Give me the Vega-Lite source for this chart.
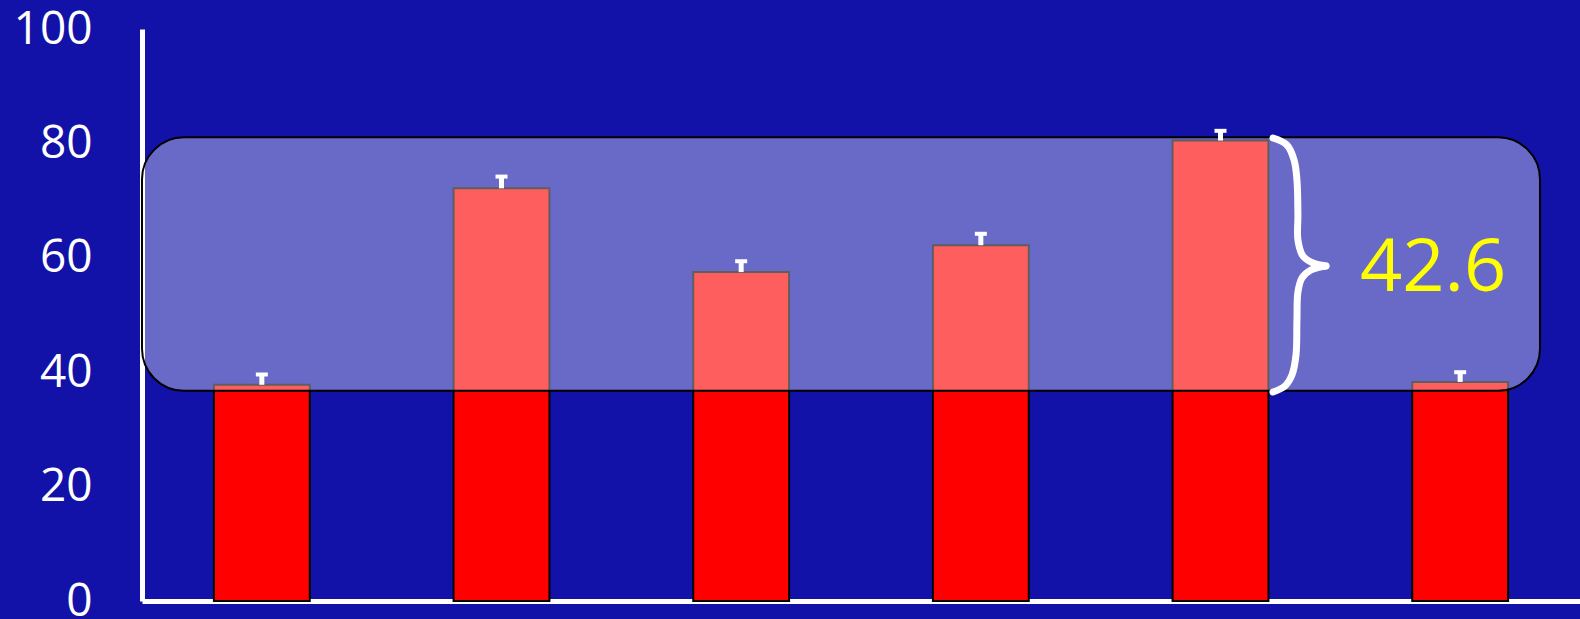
{
  "$schema": "https://vega.github.io/schema/vega-lite/v6.json",
  "width": 1438,
  "height": 572,
  "autosize": {"type": "none"},
  "padding": {"left": 142, "top": 29, "right": 0, "bottom": 18},
  "background": "#1212A8",
  "view": {"stroke": null},
  "datasets": {
    "bars": [
      {"cat": "1", "value": 37.8, "err": 39.6},
      {"cat": "2", "value": 72.15, "err": 74.2},
      {"cat": "3", "value": 57.5, "err": 59.4},
      {"cat": "4", "value": 62.2, "err": 64.2},
      {"cat": "5", "value": 80.5, "err": 82.2},
      {"cat": "6", "value": 38.3, "err": 40.0}
    ],
    "overlay": [{"x0": 0, "x1": 5.833, "y0": 36.75, "y1": 81.07}],
    "brace": [
      {"part": "top", "i": 1, "x": 4.719, "y": 80.94},
      {"part": "top", "i": 2, "x": 4.777, "y": 79.72},
      {"part": "top", "i": 3, "x": 4.807, "y": 77.1},
      {"part": "top", "i": 4, "x": 4.819, "y": 73.6},
      {"part": "top", "i": 5, "x": 4.823, "y": 67.48},
      {"part": "top", "i": 6, "x": 4.823, "y": 63.11},
      {"part": "top", "i": 7, "x": 4.844, "y": 60.31},
      {"part": "top", "i": 8, "x": 4.886, "y": 59.09},
      {"part": "top", "i": 9, "x": 4.94, "y": 58.57},
      {"part": "bottom", "i": 10, "x": 4.94, "y": 58.57},
      {"part": "bottom", "i": 11, "x": 4.877, "y": 57.87},
      {"part": "bottom", "i": 12, "x": 4.84, "y": 56.47},
      {"part": "bottom", "i": 13, "x": 4.823, "y": 54.02},
      {"part": "bottom", "i": 14, "x": 4.819, "y": 49.13},
      {"part": "bottom", "i": 15, "x": 4.815, "y": 43.01},
      {"part": "bottom", "i": 16, "x": 4.798, "y": 39.51},
      {"part": "bottom", "i": 17, "x": 4.769, "y": 37.59},
      {"part": "bottom", "i": 18, "x": 4.719, "y": 36.54}
    ],
    "label": [{"x": 5.387, "y": 58.0, "text": "42.6"}]
  },
  "layer": [
    {
      "data": {"name": "bars"},
      "mark": {"type": "bar", "fill": "#FF0000", "stroke": "#000000", "strokeWidth": 2},
      "encoding": {
        "x": {
          "field": "cat", "type": "nominal", "sort": null,
          "scale": {"paddingInner": 0.6, "paddingOuter": 0.3},
          "axis": {"labels": false, "ticks": false, "title": null, "domainColor": "#FFFFFF", "domainWidth": 5, "grid": false}
        },
        "y": {
          "field": "value", "type": "quantitative",
          "scale": {"domain": [0, 100], "nice": false},
          "axis": {"values": [0, 20, 40, 60, 80, 100], "title": null, "grid": false, "ticks": false, "tickSize": 0,
                   "domainColor": "#FFFFFF", "domainWidth": 5, "labelColor": "#FFFFFF", "labelFont": "Open Sans",
                   "labelFontSize": 46, "labelPadding": 50}
        }
      }
    },
    {
      "data": {"name": "overlay"},
      "mark": {"type": "rect", "fill": "#FFFFFF", "fillOpacity": 0.37, "stroke": "#000000", "strokeWidth": 2, "cornerRadius": 42},
      "encoding": {
        "x": {"field": "x0", "type": "quantitative", "scale": {"domain": [0, 6], "nice": false}, "axis": null},
        "x2": {"field": "x1"},
        "y": {"field": "y0", "type": "quantitative"},
        "y2": {"field": "y1"}
      }
    },
    {
      "data": {"name": "brace"},
      "mark": {"type": "line", "color": "#FFFFFF", "strokeWidth": 7, "strokeCap": "round", "strokeJoin": "round", "interpolate": "catmull-rom"},
      "encoding": {
        "x": {"field": "x", "type": "quantitative", "scale": {"domain": [0, 6], "nice": false}, "axis": null},
        "y": {"field": "y", "type": "quantitative"},
        "detail": {"field": "part"},
        "order": {"field": "i"}
      }
    },
    {
      "data": {"name": "label"},
      "mark": {"type": "text", "color": "#FFFF00", "font": "Open Sans", "fontSize": 74, "align": "center", "baseline": "middle"},
      "encoding": {
        "x": {"field": "x", "type": "quantitative", "scale": {"domain": [0, 6], "nice": false}, "axis": null},
        "y": {"field": "y", "type": "quantitative"},
        "text": {"field": "text"}
      }
    },
    {
      "data": {"name": "bars"},
      "mark": {"type": "rule", "color": "#FFFFFF", "strokeWidth": 5},
      "encoding": {
        "x": {"field": "cat", "type": "nominal", "sort": null, "scale": {"paddingInner": 0.6, "paddingOuter": 0.3}, "axis": null},
        "y": {"field": "value", "type": "quantitative"},
        "y2": {"field": "err"}
      }
    },
    {
      "data": {"name": "bars"},
      "mark": {"type": "tick", "color": "#FFFFFF", "size": 12, "thickness": 4, "orient": "horizontal", "opacity": 1},
      "encoding": {
        "x": {"field": "cat", "type": "nominal", "sort": null, "scale": {"paddingInner": 0.6, "paddingOuter": 0.3}, "axis": null},
        "y": {"field": "err", "type": "quantitative"}
      }
    }
  ],
  "resolve": {"scale": {"x": "independent"}, "axis": {"x": "independent"}}
}
